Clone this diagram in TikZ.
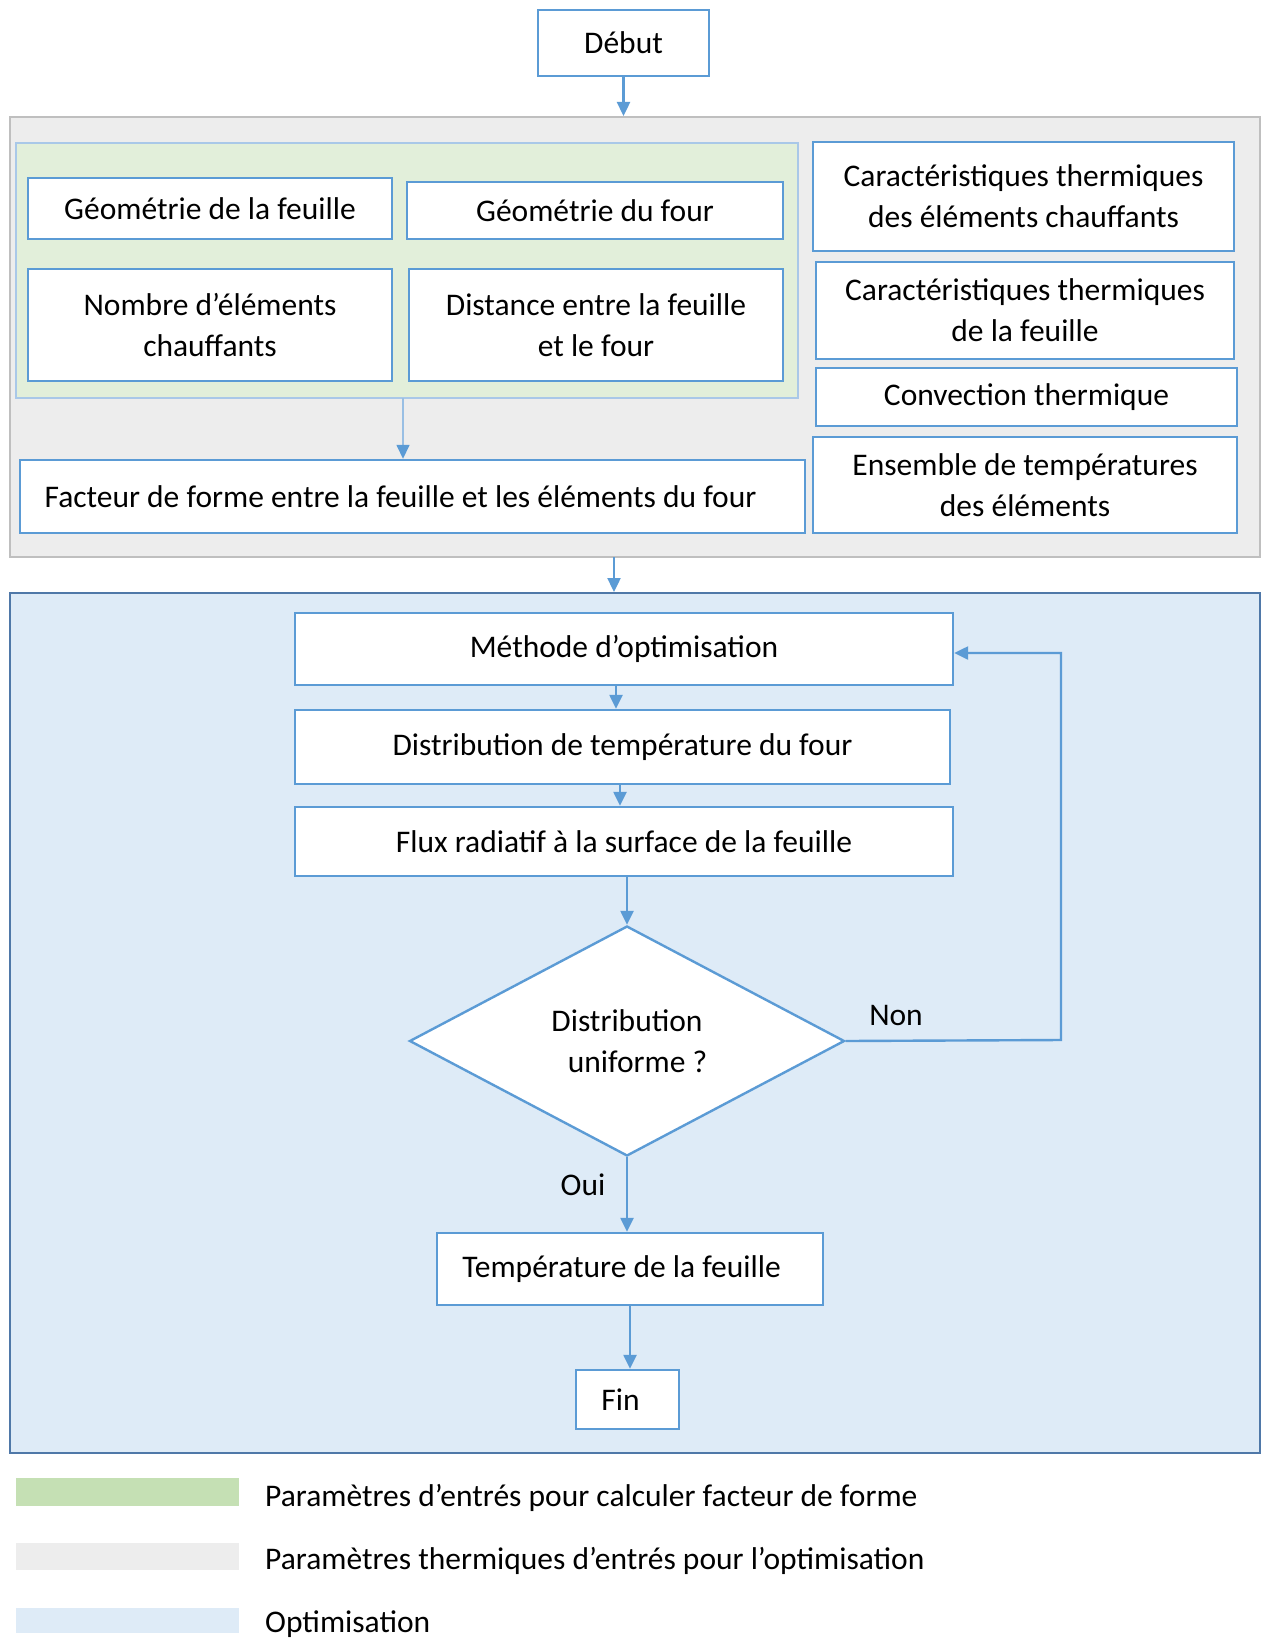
\documentclass[tikz,border=0pt]{standalone}
\usepackage{fontspec}
\setmainfont{Carlito}
\usetikzlibrary{shapes.geometric,arrows.meta}
\definecolor{boxblue}{HTML}{5B9BD5}
\definecolor{graybg}{HTML}{EDEDED}
\definecolor{grayline}{HTML}{BFBFBF}
\definecolor{greenbg}{HTML}{E2EFDA}
\definecolor{greenline}{HTML}{A9C8E8}
\definecolor{bluebg}{HTML}{DEEBF7}
\definecolor{blueline}{HTML}{4F78A8}
\definecolor{legendgreen}{HTML}{C5E0B4}
\begin{document}
\begin{tikzpicture}[x=1pt,y=-1pt,
  txt/.style={font=\fontsize{31.5}{41}\selectfont},
  box/.style={draw=boxblue, fill=white, line width=2.4pt, inner sep=0pt, align=center, txt},
  zone/.style={inner sep=0pt, line width=2pt},
  arr/.style={draw=boxblue, line width=2.4pt, -{Triangle[length=14pt,width=13pt]}},
  swatch/.style={inner sep=0pt, minimum width=223pt},
  legtext/.style={txt, anchor=west, inner sep=0pt}]
\useasboundingbox (0,0) rectangle (1261,1640);
\fill[white] (0,0) rectangle (1261,1640);

% background zones
\node[zone, draw=grayline, fill=graybg, minimum width=1250pt, minimum height=440pt] (inputs) at (635,337) {};
\node[zone, draw=greenline, fill=greenbg, minimum width=782pt, minimum height=255pt] (geom) at (407,270.5) {};
\node[zone, draw=blueline, fill=bluebg, minimum width=1250pt, minimum height=860pt] (optim) at (635,1023) {};

% start
\node[box, minimum width=171pt, minimum height=66pt] (debut) at (623.5,43) {Début};

% geometric inputs
\node[box, minimum width=364pt, minimum height=61pt] (geofeuille) at (210,208.5) {Géométrie de la feuille};
\node[box, minimum width=376pt, minimum height=57pt] (geofour) at (595,210.5) {Géométrie du four};
\node[box, minimum width=364pt, minimum height=112pt] (nombre) at (210,325) {Nombre d’éléments\\chauffants};
\node[box, minimum width=374pt, minimum height=112pt] (distance) at (596,325) {Distance entre la feuille\\et le four};
\node[box, minimum width=785pt, minimum height=73pt] (facteur) at (412.5,496.5) {Facteur de forme entre la feuille et les éléments du four\hspace*{24pt}};

% thermal inputs
\node[box, minimum width=421pt, minimum height=109pt] (carchauf) at (1023.5,196.5) {Caractéristiques thermiques\\des éléments chauffants};
\node[box, minimum width=418pt, minimum height=97pt] (carfeuille) at (1025,310.5) {Caractéristiques thermiques\\de la feuille};
\node[box, minimum width=421pt, minimum height=58pt] (convection) at (1026.5,397) {Convection thermique};
\node[box, minimum width=424pt, minimum height=96pt] (ensemble) at (1025,485) {Ensemble de températures\\des éléments};

% optimisation loop
\node[box, minimum width=658pt, minimum height=72pt] (methode) at (624,649) {Méthode d’optimisation};
\node[box, minimum width=655pt, minimum height=74pt] (distrib) at (622.5,747) {Distribution de température du four};
\node[box, minimum width=658pt, minimum height=69pt] (flux) at (624,841.5) {Flux radiatif à la surface de la feuille};
\node[box, diamond, minimum width=435pt, minimum height=230pt] (test) at (627,1041) {Distribution\\\hspace*{21pt}uniforme ?};
\node[box, minimum width=386pt, minimum height=72pt] (tempfeuille) at (630,1269) {Température de la feuille\hspace*{17pt}};
\node[box, minimum width=103pt, minimum height=59pt] (fin) at (627.5,1399.5) {Fin\hspace*{14pt}};

\coordinate (loopcorner) at (1061,1040);

% connectors
\draw[arr] (debut.south) -- (debut.south |- inputs.north);
\draw[draw=greenline!80!boxblue, line width=1.5pt, -{Triangle[length=14pt,width=13pt,color=boxblue]}] (403,398) coordinate (gfoot) -- (gfoot |- facteur.north);
\draw[arr] (614,557) coordinate (ifoot) -- (ifoot |- optim.north);
\draw[arr] (616,685) coordinate (mfoot) -- (mfoot |- distrib.north);
\draw[arr] (620,784) coordinate (dfoot) -- (dfoot |- flux.north);
\draw[arr] (flux.south -| test.north) -- (test.north);
\draw[arr] (test.south) -- (test.south |- tempfeuille.north);
\draw[arr] (tempfeuille.south) -- (tempfeuille.south |- fin.north);
\draw[arr] (test.east) -- (loopcorner) -- (loopcorner |- 0,653) -- (methode.east |- 0,653);

\node[txt, inner sep=0pt] (non) at (896,1015) {Non};
\node[txt, inner sep=0pt] (oui) at (583,1185) {Oui};

% legend
\node[swatch, fill=legendgreen, minimum height=28pt] (leggreen) at (127.5,1492) {};
\node[swatch, fill=graybg, minimum height=27pt] (leggray) at (127.5,1556.5) {};
\node[swatch, fill=bluebg, minimum height=25pt] (legblue) at (127.5,1620.5) {};
\node[legtext] (lt1) at (265,1498) {Paramètres d’entrés pour calculer facteur de forme};
\node[legtext] (lt2) at (265,1561) {Paramètres thermiques d’entrés pour l’optimisation};
\node[legtext] (lt3) at (265,1624) {Optimisation};
\end{tikzpicture}
\end{document}
